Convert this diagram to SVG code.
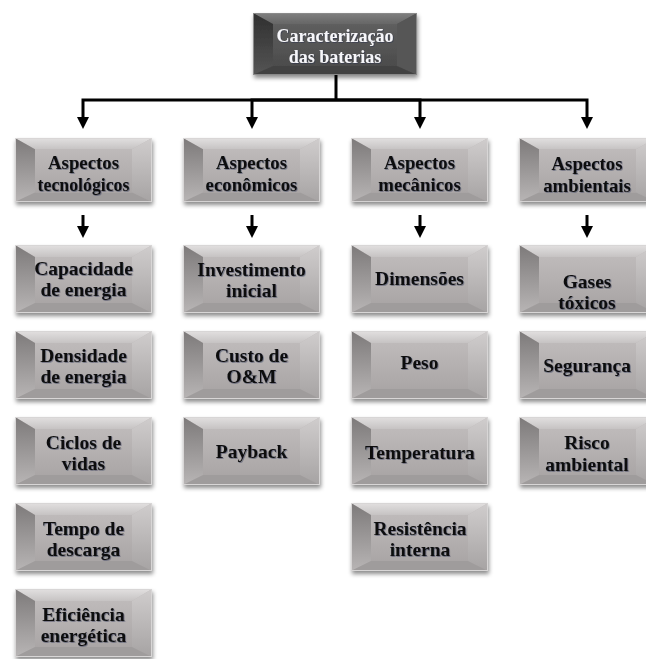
<svg xmlns="http://www.w3.org/2000/svg" xmlns:xlink="http://www.w3.org/1999/xlink" width="646" height="659" viewBox="0 0 646 659">
<style>
  .t { font-family: "Liberation Serif", "Times New Roman", serif; font-weight: bold; font-size: 19.5px; fill: #111; text-anchor: middle; }
  .t1 { font-size: 18.8px; }
  .top { font-family: "Liberation Serif", "Times New Roman", serif; font-weight: bold; font-size: 18px; fill: #f6f6fa; text-anchor: middle; }
  .conn { fill: none; stroke: #000; stroke-width: 3; stroke-linejoin: miter; }
</style>
<defs>
  <linearGradient id="gTop" x1="0" y1="0" x2="0" y2="1"><stop offset="0" stop-color="#e2e0e0"/><stop offset="1" stop-color="#c6c3c3"/></linearGradient>
  <linearGradient id="gLeft" x1="0" y1="0" x2="0" y2="1"><stop offset="0" stop-color="#7d7a7a"/><stop offset="1" stop-color="#b8b5b5"/></linearGradient>
  <linearGradient id="gRight" x1="0" y1="0" x2="0" y2="1"><stop offset="0" stop-color="#d0cdcd"/><stop offset="1" stop-color="#a6a3a3"/></linearGradient>
  <linearGradient id="gCenter" x1="0" y1="0" x2="0" y2="1"><stop offset="0" stop-color="#bebaba"/><stop offset="1" stop-color="#aaa6a6"/></linearGradient>
  <linearGradient id="dTop" x1="0" y1="0" x2="0" y2="1"><stop offset="0" stop-color="#808080"/><stop offset="1" stop-color="#666"/></linearGradient>
  <linearGradient id="dLeft" x1="0" y1="0" x2="0" y2="1"><stop offset="0" stop-color="#2f2f2f"/><stop offset="1" stop-color="#555"/></linearGradient>
  <linearGradient id="dCenter" x1="0" y1="0" x2="0" y2="1"><stop offset="0" stop-color="#5e5e5e"/><stop offset="1" stop-color="#4c4c4c"/></linearGradient>
  <filter id="sh" x="-10%" y="-10%" width="125%" height="135%">
    <feDropShadow dx="1" dy="3" stdDeviation="2" flood-color="#000" flood-opacity="0.45"/>
  </filter>
  <filter id="tsh" x="-10%" y="-30%" width="120%" height="160%">
    <feDropShadow dx="0.8" dy="0.8" stdDeviation="0.6" flood-color="#1c2a48" flood-opacity="0.5"/>
  </filter>
  <symbol id="bev" viewBox="0 0 137 68" preserveAspectRatio="none">
    <rect x="0" y="0" width="137" height="68" fill="url(#gCenter)"/>
    <polygon points="0,0 137,0 117,12 20,12" fill="url(#gTop)"/>
    <polygon points="0,0 20,12 20,58 0,68" fill="url(#gLeft)"/>
    <polygon points="137,0 137,68 117,58 117,12" fill="url(#gRight)"/>
    <polygon points="0,68 20,58 117,58 137,68" fill="#9f9c9c"/>
    <rect x="20" y="12" width="97" height="46" fill="url(#gCenter)"/>
    <rect x="0.5" y="0.5" width="136" height="67" fill="none" stroke="#d8d6d6" stroke-width="1"/>
  </symbol>
  <symbol id="bevD" viewBox="0 0 164 62" preserveAspectRatio="none">
    <rect x="0" y="0" width="164" height="62" fill="url(#dCenter)"/>
    <polygon points="0,0 164,0 144,11 20,11" fill="url(#dTop)"/>
    <polygon points="0,0 20,11 20,53 0,62" fill="url(#dLeft)"/>
    <polygon points="164,0 164,62 144,53 144,11" fill="#565656"/>
    <polygon points="0,62 20,53 144,53 164,62" fill="#434343"/>
    <rect x="20" y="11" width="124" height="42" fill="url(#dCenter)"/>
    <rect x="0.5" y="0.5" width="163" height="61" fill="none" stroke="#8a8a8a" stroke-width="1"/>
  </symbol>
  <marker id="ah" viewBox="0 0 12 12" refX="0" refY="6" markerWidth="12" markerHeight="12" markerUnits="userSpaceOnUse" orient="auto">
    <path d="M0,0 L12,6 L0,12 z" fill="#000"/>
  </marker>
</defs>
<rect width="646" height="659" fill="#fff"/>

<g id="connectors">
  <path class="conn" d="M336,75 V100"/>
  <path class="conn" d="M336,100 H83 V117" marker-end="url(#ah)"/>
  <path class="conn" d="M336,100 H252 V117" marker-end="url(#ah)"/>
  <path class="conn" d="M336,100 H420 V117" marker-end="url(#ah)"/>
  <path class="conn" d="M336,100 H587 V117" marker-end="url(#ah)"/>
  <path class="conn" d="M83,215 V226" marker-end="url(#ah)"/>
  <path class="conn" d="M252,215 V226" marker-end="url(#ah)"/>
  <path class="conn" d="M420,215 V226" marker-end="url(#ah)"/>
  <path class="conn" d="M587,215 V226" marker-end="url(#ah)"/>
</g>

<g id="root">
  <use xlink:href="#bevD" href="#bevD" x="253" y="13" width="164" height="62" filter="url(#sh)"/>
  <text class="top" x="335" y="42" filter="url(#tsh)">Caracterização</text>
  <text class="top" x="335" y="63" filter="url(#tsh)">das baterias</text>
</g>

<g id="tecnologicos">
  <use href="#bev" x="15" y="138" width="137" height="64" filter="url(#sh)"/>
  <text class="t t1" x="83.5" y="169" filter="url(#tsh)">Aspectos</text>
  <text class="t t1" x="83.5" y="191" filter="url(#tsh)" style="font-size:17.8px">tecnológicos</text>
</g>
<g id="economicos">
  <use href="#bev" x="183" y="138" width="137" height="64" filter="url(#sh)"/>
  <text class="t t1" x="251.5" y="169" filter="url(#tsh)">Aspectos</text>
  <text class="t t1" x="251.5" y="191" filter="url(#tsh)">econômicos</text>
</g>
<g id="mecanicos">
  <use href="#bev" x="351" y="138" width="137" height="64" filter="url(#sh)"/>
  <text class="t t1" x="419.5" y="169" filter="url(#tsh)">Aspectos</text>
  <text class="t t1" x="419.5" y="191" filter="url(#tsh)">mecânicos</text>
</g>
<g id="ambientais">
  <use href="#bev" x="519" y="138" width="137" height="64" filter="url(#sh)"/>
  <text class="t t1" x="587" y="170" filter="url(#tsh)">Aspectos</text>
  <text class="t t1" x="587" y="192" filter="url(#tsh)">ambientais</text>
</g>

<g id="capacidade">
  <use href="#bev" x="15" y="245" width="137" height="68" filter="url(#sh)"/>
  <text class="t" x="83.5" y="275" filter="url(#tsh)">Capacidade</text>
  <text class="t" x="83.5" y="296" filter="url(#tsh)">de energia</text>
</g>
<g id="densidade">
  <use href="#bev" x="15" y="331" width="137" height="68" filter="url(#sh)"/>
  <text class="t" x="83.5" y="362" filter="url(#tsh)">Densidade</text>
  <text class="t" x="83.5" y="383" filter="url(#tsh)">de energia</text>
</g>
<g id="ciclos">
  <use href="#bev" x="15" y="417" width="137" height="68" filter="url(#sh)"/>
  <text class="t" x="83.5" y="449" filter="url(#tsh)">Ciclos de</text>
  <text class="t" x="83.5" y="470" filter="url(#tsh)">vidas</text>
</g>
<g id="tempo">
  <use href="#bev" x="15" y="503" width="137" height="68" filter="url(#sh)"/>
  <text class="t" x="83.5" y="535" filter="url(#tsh)">Tempo de</text>
  <text class="t" x="83.5" y="556" filter="url(#tsh)">descarga</text>
</g>
<g id="eficiencia">
  <use href="#bev" x="15" y="589" width="137" height="68" filter="url(#sh)"/>
  <text class="t" x="83.5" y="621" filter="url(#tsh)">Eficiência</text>
  <text class="t" x="83.5" y="642" filter="url(#tsh)">energética</text>
</g>

<g id="investimento">
  <use href="#bev" x="183" y="245" width="137" height="68" filter="url(#sh)"/>
  <text class="t" x="251.5" y="276" filter="url(#tsh)">Investimento</text>
  <text class="t" x="251.5" y="297" filter="url(#tsh)">inicial</text>
</g>
<g id="custo">
  <use href="#bev" x="183" y="331" width="137" height="68" filter="url(#sh)"/>
  <text class="t" x="251.5" y="362" filter="url(#tsh)">Custo de</text>
  <text class="t" x="251.5" y="383" filter="url(#tsh)">O&amp;M</text>
</g>
<g id="payback">
  <use href="#bev" x="183" y="417" width="137" height="68" filter="url(#sh)"/>
  <text class="t" x="251.5" y="458" filter="url(#tsh)">Payback</text>
</g>

<g id="dimensoes">
  <use href="#bev" x="351" y="245" width="137" height="68" filter="url(#sh)"/>
  <text class="t" x="419.5" y="285" filter="url(#tsh)">Dimensões</text>
</g>
<g id="peso">
  <use href="#bev" x="351" y="331" width="137" height="68" filter="url(#sh)"/>
  <text class="t" x="419.5" y="369" filter="url(#tsh)">Peso</text>
</g>
<g id="temperatura">
  <use href="#bev" x="351" y="417" width="137" height="68" filter="url(#sh)"/>
  <text class="t" x="420" y="459" filter="url(#tsh)">Temperatura</text>
</g>
<g id="resistencia">
  <use href="#bev" x="351" y="503" width="137" height="68" filter="url(#sh)"/>
  <text class="t" x="420" y="535" filter="url(#tsh)">Resistência</text>
  <text class="t" x="420" y="556" filter="url(#tsh)">interna</text>
</g>

<g id="gases">
  <use href="#bev" x="519" y="245" width="137" height="68" filter="url(#sh)"/>
  <text class="t" x="587" y="288" filter="url(#tsh)">Gases</text>
  <text class="t" x="587" y="309" filter="url(#tsh)">tóxicos</text>
</g>
<g id="seguranca">
  <use href="#bev" x="519" y="331" width="137" height="68" filter="url(#sh)"/>
  <text class="t" x="587" y="372" filter="url(#tsh)">Segurança</text>
</g>
<g id="risco">
  <use href="#bev" x="519" y="417" width="137" height="68" filter="url(#sh)"/>
  <text class="t" x="587" y="449" filter="url(#tsh)">Risco</text>
  <text class="t" x="587" y="471" filter="url(#tsh)">ambiental</text>
</g>
</svg>
